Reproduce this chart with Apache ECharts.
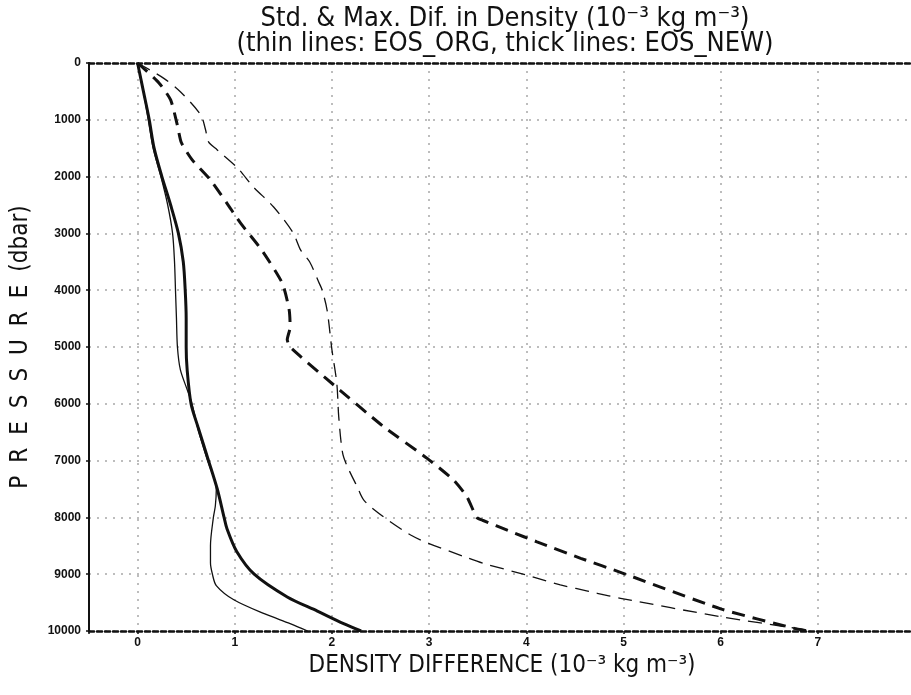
<!DOCTYPE html>
<html>
<head>
<meta charset="utf-8">
<script src="https://cdn.jsdelivr.net/npm/echarts@6/dist/echarts.min.js"></script>
<style>
html,body{margin:0;padding:0;background:#fff;}
#chart{width:911px;height:695px;}
</style>
</head>
<body>
<div id="chart"></div>
<script>
// x-axis tick labels and y-axis tick labels
const xTicks = [0,1,2,3,4,5,6,7,8];
const yTicks = [0,1000,2000,3000,4000,5000,6000,7000,8000,9000,10000];

// EOS_ORG standard deviation (thin solid)
const orgStdP = [0,500,1000,1500,2000,2500,3000,3500,4000,4500,5000,5400,5750,6000,6500,7000,7500,7800,8000,8500,8800,9000,9200,9450,9700,9870,10000];
const orgStdX = [0,0.06,0.11,0.16,0.24,0.31,0.36,0.38,0.39,0.40,0.41,0.44,0.51,0.56,0.63,0.72,0.81,0.80,0.78,0.75,0.75,0.77,0.81,0.99,1.31,1.57,1.75];

// EOS_NEW standard deviation (thick solid)
const newStdP = [0,500,1000,1500,2000,2500,3000,3500,4000,4500,5000,5400,6000,6400,7000,7500,8000,8200,8600,9000,9400,9650,9870,10000];
const newStdX = [0,0.06,0.12,0.17,0.25,0.34,0.42,0.47,0.49,0.50,0.50,0.51,0.55,0.62,0.73,0.82,0.89,0.92,1.02,1.20,1.54,1.85,2.12,2.30];

// EOS_ORG maximum difference (thin dashed)
const orgMaxP = [0,270,505,915,1180,1390,1530,1850,2180,2535,2990,3300,3500,3880,4000,4350,5050,5640,6230,6870,7110,7460,7700,7990,8310,8460,8690,8810,9010,9190,9250,9336,9424,9748,9947,10000];
const orgMaxX = [0,0.27,0.44,0.65,0.70,0.73,0.82,1.03,1.19,1.40,1.60,1.68,1.77,1.87,1.90,1.95,2.00,2.05,2.07,2.11,2.16,2.26,2.33,2.53,2.81,3.00,3.36,3.56,3.99,4.35,4.51,4.73,4.97,6.00,6.75,6.95];

// EOS_NEW maximum difference (thick dashed)
const newMaxP = [0,350,650,1100,1400,1700,2060,2470,2820,3300,3880,4350,4650,4870,5000,5670,6400,6960,7340,7640,8000,8050,8250,8430,8720,8980,9610,9950,10000];
const newMaxX = [0,0.22,0.34,0.41,0.45,0.56,0.75,0.92,1.06,1.28,1.49,1.56,1.57,1.54,1.57,2.02,2.53,2.98,3.25,3.39,3.49,3.55,3.84,4.11,4.56,4.99,6.00,6.75,6.90];

const pair = (xs, ps) => xs.map((x, i) => [x, ps[i]]);

const FONT = "'Liberation Sans Narrow','DejaVu Sans Condensed','Liberation Sans',sans-serif";
const TICKFONT = "'Liberation Sans',Arial,sans-serif";
const chart = echarts.init(document.getElementById('chart'), null, {renderer: 'canvas'});

const gridLine = {show: true, lineStyle: {color: '#a8a8a8', width: 1.5, type: [2, 6]}};
const G = '\u2002\u200A';

chart.setOption({
  animation: false,
  backgroundColor: '#fff',
  title: {
    text: 'Std. & Max. Dif. in Density (10⁻³ kg m⁻³)\n(thin lines: EOS_ORG, thick lines: EOS_NEW)',
    left: 500, top: 1, textAlign: 'center',
    textStyle: {fontFamily: FONT, fontWeight: 'normal', fontSize: 27, lineHeight: 25, color: '#111'}
  },
  grid: {left: 89, top: 63, width: 826, height: 568, containLabel: false, outerBoundsMode: 'none'},
  xAxis: [{
    type: 'value', min: -0.5, max: 8, minInterval: 1, maxInterval: 1, splitNumber: 9,
    position: 'bottom',
    name: 'DENSITY DIFFERENCE (10⁻³ kg m⁻³)', nameLocation: 'middle', nameGap: 19,
    nameTextStyle: {fontFamily: FONT, fontSize: 24, color: '#111'},
    axisLine: {show: true, onZero: false, lineStyle: {color: '#111', width: 2.5, type: [5, 3]}},
    axisTick: {show: true, length: 3, lineStyle: {color: '#111', width: 1.5}},
    axisLabel: {
      fontFamily: TICKFONT, fontWeight: 'bold', fontSize: 12, color: '#111', margin: 6,
      formatter: v => (Number.isInteger(v) && xTicks.includes(v)) ? String(v) : ''
    },
    splitLine: gridLine
  }, {
    type: 'value', min: -0.5, max: 8, position: 'top',
    axisLine: {show: true, onZero: false, lineStyle: {color: '#111', width: 2.5, type: [5, 3]}},
    axisTick: {show: false}, axisLabel: {show: false}, splitLine: {show: false}
  }],
  yAxis: {
    type: 'value', inverse: true, min: 0, max: 10000, interval: 1000,
    name: ['P','R','E','S','S','U','R','E','(dbar)'].join(G), nameLocation: 'middle', nameGap: 56, nameRotate: 90,
    nameTextStyle: {fontFamily: FONT, fontSize: 24, color: '#111'},
    axisLine: {show: true, onZero: false, lineStyle: {color: '#111', width: 2}},
    axisTick: {show: true, length: 3, lineStyle: {color: '#111', width: 1.5}},
    axisLabel: {
      fontFamily: TICKFONT, fontWeight: 'bold', fontSize: 12, color: '#111', margin: 8,
      formatter: v => yTicks.includes(v) ? String(v) : ''
    },
    splitLine: gridLine
  },
  series: [
    {type: 'line', data: pair(orgStdX, orgStdP), showSymbol: false, smooth: 0.3,
     lineStyle: {color: '#111', width: 1.3}},
    {type: 'line', data: pair(newStdX, newStdP), showSymbol: false, smooth: 0.3,
     lineStyle: {color: '#111', width: 3}},
    {type: 'line', data: pair(orgMaxX, orgMaxP), showSymbol: false, smooth: 0.3,
     lineStyle: {color: '#111', width: 1.3, type: [14, 8]}},
    {type: 'line', data: pair(newMaxX, newMaxP), showSymbol: false, smooth: 0.2,
     lineStyle: {color: '#111', width: 3, type: [13, 8]}}
  ]
});
</script>
</body>
</html>
